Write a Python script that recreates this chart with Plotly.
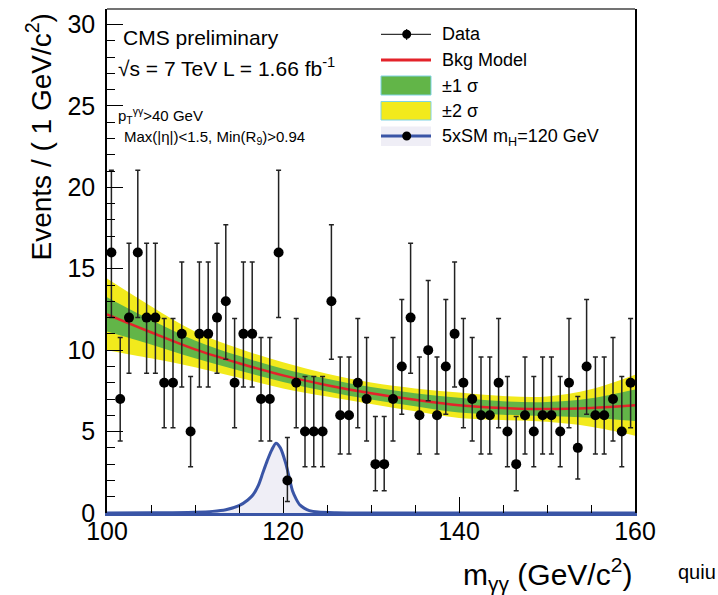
import plotly.graph_objects as go

# ---------------- data ----------------
mass = [100.5, 101.5, 102.5, 103.5, 104.5, 105.5, 106.5, 107.5, 108.5, 109.5,
        110.5, 111.5, 112.5, 113.5, 114.5, 115.5, 116.5, 117.5, 118.5, 119.5,
        120.5, 121.5, 122.5, 123.5, 124.5, 125.5, 126.5, 127.5, 128.5, 129.5,
        130.5, 131.5, 132.5, 133.5, 134.5, 135.5, 136.5, 137.5, 138.5, 139.5,
        140.5, 141.5, 142.5, 143.5, 144.5, 145.5, 146.5, 147.5, 148.5, 149.5,
        150.5, 151.5, 152.5, 153.5, 154.5, 155.5, 156.5, 157.5, 158.5, 159.5]
counts = [16, 7, 12, 16, 12, 12, 8, 8, 11, 5,
          11, 11, 12, 13, 8, 11, 11, 7, 7, 16,
          2, 8, 5, 5, 5, 13, 6, 6, 8, 7,
          3, 3, 7, 9, 12, 6, 10, 6, 9, 11,
          8, 7, 6, 6, 8, 5, 3, 6, 5, 6,
          6, 5, 8, 4, 9, 6, 6, 7, 5, 8]
# error-bar ends, per count value
err_low_end = {2: 0.71, 3: 1.37, 4: 2.09, 5: 2.84, 6: 3.62, 7: 4.42, 8: 5.23,
               9: 6.06, 10: 6.89, 11: 7.74, 12: 8.58, 13: 9.44, 16: 12.0}
err_high_end = {2: 4.64, 3: 5.92, 4: 7.16, 5: 8.38, 6: 9.58, 7: 10.77, 8: 11.95,
                9: 13.11, 10: 14.27, 11: 15.42, 12: 16.56, 13: 17.70, 16: 21.05}

# background model and uncertainty bands
bkg_x = [100, 105, 110, 115, 120, 125, 130, 135, 140, 145, 150, 155, 160]
bkg_y = [12.2, 11.1, 10.05, 9.2, 8.45, 7.85, 7.35, 6.95, 6.62, 6.45, 6.38, 6.45, 6.62]
sig1 = [1.05, 0.75, 0.55, 0.45, 0.41, 0.39, 0.38, 0.40, 0.45, 0.41, 0.43, 0.60, 0.97]
sig2 = [2.2, 1.6, 1.1, 0.9, 0.8, 0.7, 0.66, 0.70, 0.78, 0.74, 0.78, 1.15, 1.87]

# 5xSM signal, mH = 120 GeV
sig_x = [100, 105, 110, 112, 113.5, 115, 116, 116.6, 117.2, 117.7, 118.2, 118.7, 119.2,
         119.7, 120.3, 120.7, 121.1, 121.5, 121.9, 122.4, 123, 124, 126, 130, 160]
sig_y = [0, 0.01, 0.05, 0.1, 0.2, 0.45, 0.8, 1.12, 1.7, 2.45, 3.2, 3.85, 4.29,
         4.0, 3.07, 2.2, 1.33, 0.85, 0.5, 0.3, 0.15, 0.06, 0.02, 0.005, 0]

x_ticks = [100, 120, 140, 160]
y_ticks = [0, 5, 10, 15, 20, 25, 30]

# ---------------- colours ----------------
YELLOW = "#f2ea1c"
GREEN = "#62b548"
RED = "#e3232a"
BLUE = "#3a55a6"
SIGFILL = "#efeef6"
FONT = "Liberation Sans, Arial, sans-serif"

fig = go.Figure()

up2 = [b + s for b, s in zip(bkg_y, sig2)]
lo2 = [b - s for b, s in zip(bkg_y, sig2)]
up1 = [b + s for b, s in zip(bkg_y, sig1)]
lo1 = [b - s for b, s in zip(bkg_y, sig1)]

fig.add_trace(go.Scatter(x=bkg_x, y=lo2, mode="lines", line=dict(width=0, shape="spline"),
                         hoverinfo="skip", showlegend=False))
fig.add_trace(go.Scatter(x=bkg_x, y=up2, mode="lines", line=dict(width=0, shape="spline"),
                         fill="tonexty", fillcolor=YELLOW, showlegend=False))
fig.add_trace(go.Scatter(x=bkg_x, y=lo1, mode="lines", line=dict(width=0, shape="spline"),
                         hoverinfo="skip", showlegend=False))
fig.add_trace(go.Scatter(x=bkg_x, y=up1, mode="lines", line=dict(width=0, shape="spline"),
                         fill="tonexty", fillcolor=GREEN, showlegend=False))
fig.add_trace(go.Scatter(x=bkg_x, y=bkg_y, mode="lines",
                         line=dict(color=RED, width=2.5, shape="spline"), showlegend=False))

fig.add_trace(go.Scatter(x=sig_x, y=sig_y, mode="lines", fill="tozeroy", fillcolor=SIGFILL,
                         line=dict(color=BLUE, width=3, shape="spline", smoothing=0.8),
                         showlegend=False))

err_plus = [err_high_end[c] - c for c in counts]
err_minus = [c - err_low_end[c] for c in counts]
fig.add_trace(go.Scatter(
    x=mass, y=counts, mode="markers",
    marker=dict(color="black", size=10),
    error_y=dict(type="data", symmetric=False, array=err_plus, arrayminus=err_minus,
                 color="#222222", thickness=1.5, width=2.5),
    showlegend=False, cliponaxis=False))

# ---------------- layout ----------------
L, R, T, B = 107, 635, 9, 513
W, H = R - L, B - T


def px(x):
    return (x - L) / W


def py(y):
    return (B - y) / H


shapes = [
    # top frame line
    dict(type="line", xref="paper", yref="paper", x0=0, x1=1, y0=1, y1=1,
         line=dict(color="#444444", width=1.5)),
    # legend: Data
    dict(type="line", xref="paper", yref="paper", x0=px(381), x1=px(431), y0=py(34.3), y1=py(34.3),
         line=dict(color="black", width=1)),
    dict(type="line", xref="paper", yref="paper", x0=px(406.7), x1=px(406.7), y0=py(29), y1=py(40),
         line=dict(color="black", width=1)),
    dict(type="circle", xref="paper", yref="paper", x0=px(402.2), x1=px(411.2), y0=py(29.8), y1=py(38.8),
         fillcolor="black", line=dict(width=0)),
    # legend: Bkg
    dict(type="line", xref="paper", yref="paper", x0=px(381), x1=px(431), y0=py(60), y1=py(60),
         line=dict(color=RED, width=3)),
    # legend: 1 sigma
    dict(type="rect", xref="paper", yref="paper", x0=px(381), x1=px(431), y0=py(95), y1=py(76),
         fillcolor=GREEN, line=dict(color="#7fd3e3", width=1)),
    # legend: 2 sigma
    dict(type="rect", xref="paper", yref="paper", x0=px(381), x1=px(431), y0=py(120), y1=py(101.5),
         fillcolor=YELLOW, line=dict(color="#7fd3e3", width=1)),
    # legend: signal
    dict(type="rect", xref="paper", yref="paper", x0=px(381), x1=px(431), y0=py(146), y1=py(126.5),
         fillcolor=SIGFILL, line=dict(width=0)),
    dict(type="line", xref="paper", yref="paper", x0=px(381), x1=px(431), y0=py(136), y1=py(136),
         line=dict(color=BLUE, width=3)),
    dict(type="circle", xref="paper", yref="paper", x0=px(402.2), x1=px(411.2), y0=py(131.5), y1=py(140.5),
         fillcolor="black", line=dict(width=0)),
]


def ann(text, x, y, size, xanchor="left", yanchor="middle", angle=0):
    return dict(text=text, xref="paper", yref="paper", x=px(x), y=py(y), xanchor=xanchor,
                yanchor=yanchor, showarrow=False, textangle=angle,
                font=dict(family=FONT, size=size, color="black"))


annotations = [
    ann("Data", 440, 34.3, 18),
    ann("Bkg Model", 440, 60, 18),
    ann("±1 σ", 440, 86, 18),
    ann("±2 σ", 440, 111, 18),
    ann("5xSM m<sub>H</sub>=120 GeV", 440, 137, 18),
    ann("CMS preliminary", 121, 37, 21),
    ann("√s = 7 TeV L = 1.66 fb<sup>-1</sup>", 116, 67, 21),
    ann("p<sub>T</sub><sup>γγ</sup>&gt;40 GeV", 116, 115, 15),
    ann("Max(|η|)&lt;1.5, Min(R<sub>9</sub>)&gt;0.94", 122, 137, 15),
    ann("Events / ( 1 GeV/c<sup>2</sup>)", 39, 12, 28, xanchor="center", yanchor="top", angle=-90),
    ann("m<sub>γγ</sub> (GeV/c<sup>2</sup>)", 634, 574, 30, xanchor="right"),
    ann("quiu", 676, 572, 20),
]

fig.update_layout(
    width=718, height=595,
    margin=dict(l=L, r=718 - R, t=T, b=595 - B, pad=0),
    paper_bgcolor="white", plot_bgcolor="white",
    font=dict(family=FONT, color="black"),
    showlegend=False,
    shapes=shapes,
    annotations=annotations,
    xaxis=dict(range=[100, 160], tickvals=x_ticks, ticktext=[str(v) for v in x_ticks],
               ticks="inside", ticklen=16, tickwidth=1, tickcolor="black",
               minor=dict(dtick=5, ticks="inside", ticklen=8, tickwidth=1, tickcolor="black"),
               showline=True, linecolor=BLUE, linewidth=2.5, mirror=False,
               showgrid=False, zeroline=False,
               tickfont=dict(family=FONT, size=25), ticklabelstandoff=-6),
    yaxis=dict(range=[0, 30.95], tickvals=y_ticks, ticktext=[str(v) for v in y_ticks],
               ticks="inside", ticklen=16, tickwidth=1, tickcolor="black",
               minor=dict(dtick=1, ticks="inside", ticklen=8, tickwidth=1, tickcolor="black"),
               showline=True, linecolor="black", linewidth=1.5, mirror=True,
               showgrid=False, zeroline=False,
               tickfont=dict(family=FONT, size=25), ticklabelstandoff=5),
)

fig.write_html("out.html")
